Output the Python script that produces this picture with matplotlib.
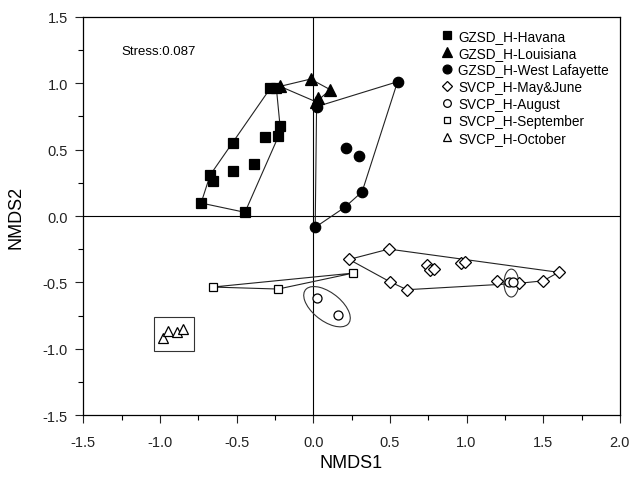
import numpy as np
import matplotlib
matplotlib.use("Agg")
import matplotlib.pyplot as plt
from matplotlib.patches import Ellipse, Rectangle
from matplotlib.lines import Line2D

plt.rcParams["font.family"] = ["Liberation Sans", "DejaVu Sans"]

# NMDS coordinates
havana_x = [-0.731, -0.672, -0.653, -0.526, -0.522, -0.445, -0.386, -0.312, -0.28, -0.24, -0.216, -0.227]
havana_y = [0.098, 0.309, 0.261, 0.337, 0.548, 0.028, 0.39, 0.593, 0.962, 0.962, 0.676, 0.60]

louis_x = [-0.216, -0.017, 0.111, 0.031, 0.02]
louis_y = [0.977, 1.032, 0.952, 0.892, 0.86]

wl_x = [0.022, 0.55, 0.216, 0.297, 0.319, 0.205, 0.013]
wl_y = [0.824, 1.012, 0.512, 0.455, 0.183, 0.065, -0.085]

may_x = [0.234, 0.493, 0.74, 0.76, 0.785, 0.963, 0.991, 1.60, 0.50, 0.611, 1.20, 1.34, 1.50]
may_y = [-0.327, -0.249, -0.37, -0.41, -0.40, -0.354, -0.349, -0.424, -0.495, -0.555, -0.49, -0.507, -0.488]

aug_x = [0.022, 0.162, 1.274, 1.303]
aug_y = [-0.615, -0.744, -0.495, -0.495]

sep_x = [-0.655, -0.229, 0.26]
sep_y = [-0.535, -0.55, -0.43]

oct_x = [-0.978, -0.948, -0.886, -0.851]
oct_y = [-0.919, -0.864, -0.877, -0.852]

labels = ["GZSD_H-Havana", "GZSD_H-Louisiana", "GZSD_H-West Lafayette",
          "SVCP_H-May&June", "SVCP_H-August", "SVCP_H-September", "SVCP_H-October"]

# grouping shapes
aug_ell1 = (0.09, -0.683, 0.38, 0.20, -45)
aug_ell2 = (1.292, -0.505, 0.096, 0.21, 0)
oct_box = (-1.04, -1.017, 0.26, 0.254)


def hull(xs, ys):
    pts = sorted(set(zip(xs, ys)))
    if len(pts) < 3:
        return pts

    def cross(o, a, b):
        return (a[0] - o[0]) * (b[1] - o[1]) - (a[1] - o[1]) * (b[0] - o[0])

    lower, upper = [], []
    for p in pts:
        while len(lower) >= 2 and cross(lower[-2], lower[-1], p) <= 0:
            lower.pop()
        lower.append(p)
    for p in reversed(pts):
        while len(upper) >= 2 and cross(upper[-2], upper[-1], p) <= 0:
            upper.pop()
        upper.append(p)
    h = lower[:-1] + upper[:-1]
    return h + [h[0]]


fig = plt.figure(figsize=(6.3, 4.85), dpi=100)
ax = fig.add_axes([0.132, 0.142, 0.852, 0.821])

ax.axhline(0, color="black", lw=0.8, zorder=1)
ax.axvline(0, color="black", lw=0.8, zorder=1)

for xs, ys in [(havana_x, havana_y), (louis_x, louis_y), (wl_x, wl_y),
               (may_x, may_y), (sep_x, sep_y)]:
    h = np.array(hull(xs, ys))
    ax.plot(h[:, 0], h[:, 1], color="#222222", lw=0.8, zorder=2)

for e in (aug_ell1, aug_ell2):
    ax.add_patch(Ellipse((e[0], e[1]), e[2], e[3], angle=e[4], fill=False,
                         ec="#333333", lw=0.8, zorder=2))
ax.add_patch(Rectangle((oct_box[0], oct_box[1]), oct_box[2], oct_box[3],
                       fill=False, ec="#333333", lw=0.8, zorder=2))

styles = [
    (havana_x, havana_y, "s", 7, "black"),
    (louis_x, louis_y, "^", 8, "black"),
    (wl_x, wl_y, "o", 7.5, "black"),
    (may_x, may_y, "D", 6, "white"),
    (aug_x, aug_y, "o", 6.5, "white"),
    (sep_x, sep_y, "s", 5.5, "white"),
    (oct_x, oct_y, "^", 7, "white"),
]
handles = []
for (xs, ys, m, ms, fc), lab in zip(styles, labels):
    ax.plot(xs, ys, ls="none", marker=m, ms=ms, mfc=fc, mec="black",
            mew=0.9, zorder=3)
    handles.append(Line2D([], [], ls="none", marker=m, ms=ms * 0.85, mfc=fc,
                          mec="black", mew=0.9, label=lab))

ax.legend(handles=handles, loc="upper left", bbox_to_anchor=(0.653, 0.983),
          frameon=False, fontsize=9.8, handletextpad=0.2, labelspacing=0.22,
          handlelength=1.2, borderaxespad=0)

ax.text(-1.25, 1.24, "Stress:0.087", fontsize=9.5, va="center")

ax.set_xlim(-1.5, 2.0)
ax.set_ylim(-1.5, 1.5)
ax.set_xticks(np.arange(-1.5, 2.01, 0.5))
ax.set_yticks(np.arange(-1.5, 1.51, 0.5))
ax.set_xticks(np.arange(-1.25, 2.0, 0.5), minor=True)
ax.set_yticks(np.arange(-1.25, 1.5, 0.5), minor=True)
ax.set_xticklabels([f"{v:.1f}" for v in np.arange(-1.5, 2.01, 0.5)])
ax.set_yticklabels([f"{v:.1f}" for v in np.arange(-1.5, 1.51, 0.5)])
ax.tick_params(which="major", length=6, width=0.8, labelsize=10.5,
               colors="#222222")
ax.tick_params(axis="x", which="major", pad=8)
ax.tick_params(axis="y", which="major", pad=5)
ax.tick_params(which="minor", length=3.5, width=0.8)
for s in ax.spines.values():
    s.set_linewidth(0.9)

ax.set_xlabel("NMDS1", fontsize=13, labelpad=4)
ax.set_ylabel("NMDS2", fontsize=13)
ax.yaxis.set_label_coords(-0.11, 0.5)

fig.savefig("out.png", dpi=100)
